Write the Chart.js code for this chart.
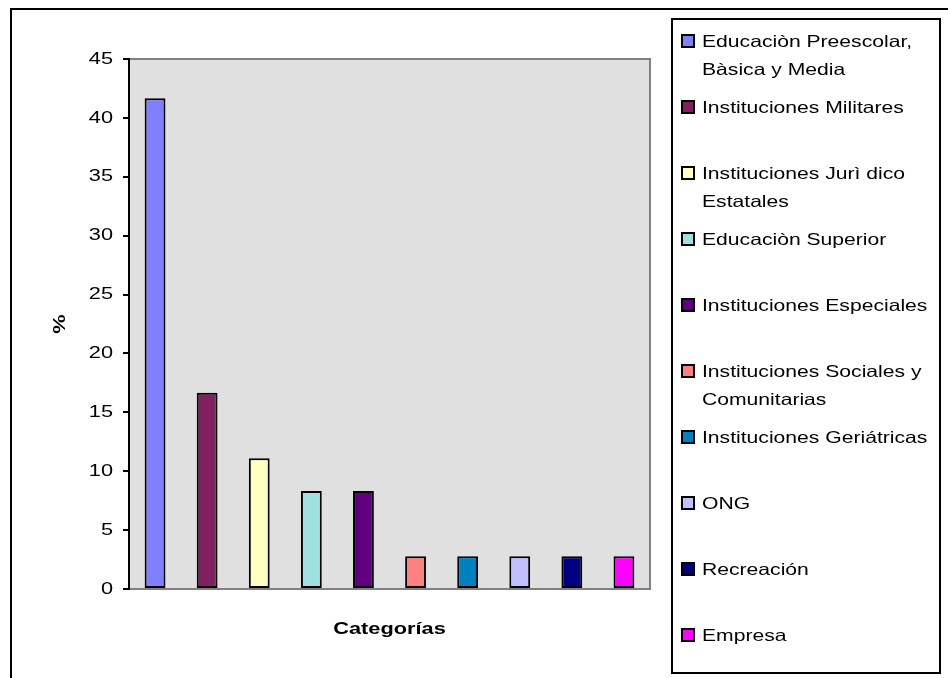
<!DOCTYPE html>
<html>
<head>
<meta charset="utf-8">
<script src="https://cdn.jsdelivr.net/npm/chart.js@4/dist/chart.umd.min.js"></script>
<style>
html,body{margin:0;padding:0;background:#fff;}
canvas{display:block;}
</style>
</head>
<body>
<canvas id="c" width="948" height="678"></canvas>
<script>
const categories = [
  "Educaciòn Preescolar, Bàsica y Media",
  "Instituciones Militares",
  "Instituciones Jurì dico Estatales",
  "Educaciòn Superior",
  "Instituciones Especiales",
  "Instituciones Sociales y Comunitarias",
  "Instituciones Geriátricas",
  "ONG",
  "Recreación",
  "Empresa"
];
const values = [41.67, 16.67, 11.11, 8.33, 8.33, 2.78, 2.78, 2.78, 2.78, 2.78];
const colors = ["#8080FF","#802060","#FFFFC0","#A0E0E0","#600080","#FF8080","#0080C0","#C0C0FF","#000080","#FF00FF"];
const yTicks = { min: 0, max: 45, step: 5 };
const yTitle = "%";
const xTitle = "Categorías";

const FONT = "'Liberation Sans', Arial, sans-serif";
const STRETCH = 1.28; // the reference text is drawn horizontally widened

const canvas = document.getElementById('c');
const ctx0 = canvas.getContext('2d');
const origFill = ctx0.fillText.bind(ctx0);
ctx0.fillText = function(t, x, y) {
  this.save();
  this.translate(x, y);
  this.scale(STRETCH, 1);
  origFill(t, 0, 0);
  this.restore();
};

const framePlugin = {
  id: 'frame',
  beforeDraw(chart) {
    const {ctx, chartArea: a} = chart;
    ctx.save();
    ctx.fillStyle = '#E0E0E0';
    ctx.fillRect(a.left, a.top, a.right - a.left, a.bottom - a.top);
    ctx.strokeStyle = '#808080';
    ctx.lineWidth = 2;
    ctx.beginPath();
    ctx.moveTo(a.left, a.top);
    ctx.lineTo(a.right, a.top);
    ctx.lineTo(a.right, a.bottom);
    ctx.stroke();
    ctx.restore();
  },
  afterDraw(chart) {
    const ctx = chart.ctx;
    ctx.save();
    ctx.strokeStyle = '#000';
    ctx.lineWidth = 2;
    ctx.strokeRect(11, 9, 1000, 1000);
    const bx = 672, by = 19, bw = 268, bh = 654;
    ctx.fillStyle = '#fff';
    ctx.fillRect(bx, by, bw, bh);
    ctx.strokeRect(bx, by, bw, bh);
    ctx.font = '16.5px ' + FONT;
    ctx.textBaseline = 'middle';
    ctx.textAlign = 'left';
    const labels = chart.data.labels;
    const bg = chart.data.datasets[0].backgroundColor;
    const textX = 702, maxW = 232;
    const firstY = 41, slot = 66, lineH = 28;
    labels.forEach((lab, i) => {
      const words = lab.split(' ');
      const lines = [];
      let cur = '';
      words.forEach(w => {
        const t = cur ? cur + ' ' + w : w;
        if (cur && ctx.measureText(t).width * STRETCH > maxW) { lines.push(cur); cur = w; }
        else cur = t;
      });
      if (cur) lines.push(cur);
      const y = firstY + slot * i;
      ctx.fillStyle = bg[i];
      ctx.fillRect(682, y - 6, 12, 12);
      ctx.strokeStyle = '#000';
      ctx.lineWidth = 2;
      ctx.strokeRect(682, y - 6, 12, 12);
      ctx.fillStyle = '#000';
      lines.forEach((ln, k) => ctx.fillText(ln, textX, y + k * lineH + 1));
    });
    ctx.restore();
  }
};

new Chart(canvas, {
  type: 'bar',
  data: {
    labels: categories,
    datasets: [{
      data: values,
      backgroundColor: colors,
      borderColor: '#000',
      borderWidth: 2,
      borderSkipped: false,
      barPercentage: 0.4,
      categoryPercentage: 1.0
    }]
  },
  options: {
    responsive: false,
    animation: false,
    layout: { padding: { left: 0, top: 59, right: 298, bottom: 0 } },
    plugins: { legend: { display: false }, tooltip: { enabled: false } },
    scales: {
      x: {
        grid: { display: false },
        border: { color: '#808080', width: 2 },
        ticks: { display: false },
        title: { display: true, text: xTitle, color: '#000',
                 font: { family: FONT, size: 17, weight: 'bold' },
                 padding: { top: 0, bottom: 38 } },
        afterFit(s) { s.height = 89; }
      },
      y: {
        min: yTicks.min, max: yTicks.max,
        ticks: { stepSize: yTicks.step, color: '#000', padding: 10,
                 font: { family: FONT, size: 17 } },
        grid: { drawOnChartArea: false, color: '#000', lineWidth: 2, tickLength: 6 },
        border: { color: '#000', width: 2 },
        title: { display: true, text: yTitle, color: '#000',
                 font: { family: FONT, size: 17, weight: 'bold' },
                 padding: { top: 50, bottom: 0 } },
        afterFit(s) { s.width = 129; }
      }
    }
  },
  plugins: [framePlugin]
});
</script>
</body>
</html>
